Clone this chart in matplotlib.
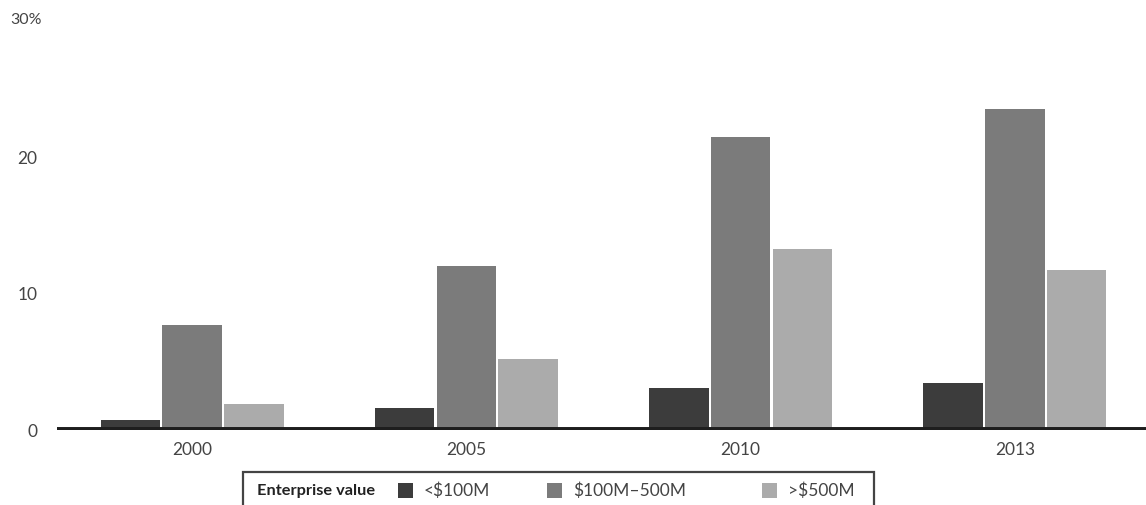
import matplotlib.pyplot as plt
from matplotlib.patches import Rectangle
import numpy as np

years = ['2000', '2005', '2010', '2013']
series_names = ['<$100M', '$100M\u2013500M', '>$500M']
under_100m = [0.7, 1.6, 3.1, 3.4]
mid_100_500m = [7.7, 12.0, 21.4, 23.4]
over_500m = [1.9, 5.2, 13.2, 11.7]
y_ticks = [0, 10, 20]

colors = ['#3c3c3c', '#7b7b7b', '#ababab']
text_color = '#444444'
plt.rcParams['font.family'] = ['Lato', 'DejaVu Sans']

W, H = 1146, 506
fig = plt.figure(figsize=(W / 100, H / 100), dpi=100)
ax = fig.add_axes([57 / W, 75 / H, 1 - 57 / W, 411 / H])

x = np.arange(len(years))
w = 0.217
gap = 0.008
for i, vals in enumerate([under_100m, mid_100_500m, over_500m]):
    ax.bar(x + (i - 1) * (w + gap), vals, width=w, color=colors[i], zorder=2)

ax.axhline(0, color='#1e1e1e', linewidth=5, zorder=3)
ax.set_xlim(-0.493, 3.478)
ax.set_ylim(0, 30)

for s in ax.spines.values():
    s.set_visible(False)
ax.set_xticks(x)
ax.set_xticklabels(years, fontsize=12.5, color=text_color)
ax.set_yticks(y_ticks)
ax.set_yticklabels([str(t) for t in y_ticks], fontsize=12.5, color=text_color)
ax.tick_params(axis='both', length=0)
ax.tick_params(axis='x', pad=8)
ax.tick_params(axis='y', pad=14)
fig.text(10 / W, 1 - 20 / H, '30%', fontsize=11.5, color=text_color,
         ha='left', va='center')

# legend box drawn by hand
fig.patches.append(Rectangle((243 / W, -0.01), (874 - 243) / W, 1 - 473 / H + 0.01,
                             transform=fig.transFigure, facecolor='white',
                             edgecolor='#444444', linewidth=1.6, zorder=5))
ly = 1 - 491 / H
fig.text(257 / W, ly, 'Enterprise value', fontsize=11.8, fontweight='bold',
         color='#222222', ha='left', va='center', zorder=6)
sq_x = [398, 547, 762]
for i, name in enumerate(series_names):
    fig.patches.append(Rectangle((sq_x[i] / W, ly - 7.5 / H), 15 / W, 15 / H,
                                 transform=fig.transFigure, facecolor=colors[i],
                                 edgecolor='none', zorder=6))
    fig.text((sq_x[i] + 26) / W, ly, name, fontsize=12.5, color=text_color,
             ha='left', va='center', zorder=6)

fig.savefig('out.png', dpi=100)
